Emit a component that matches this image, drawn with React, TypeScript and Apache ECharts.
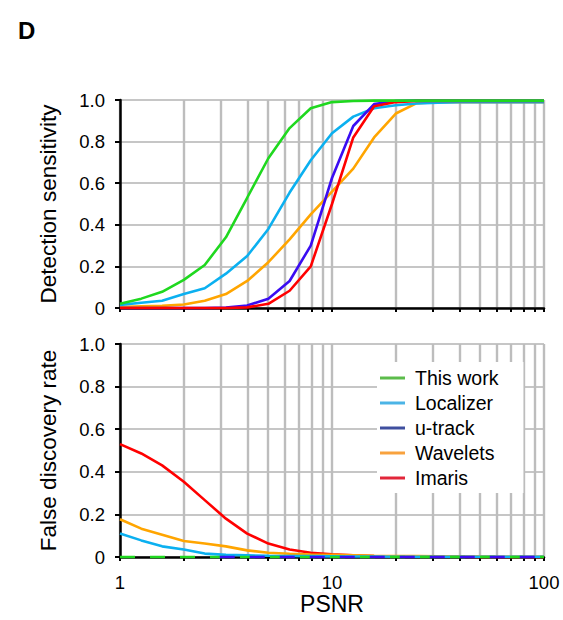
import React, { useEffect, useRef } from "react";
import * as echarts from "echarts";

const psnr = [1, 1.26, 1.58, 2, 2.51, 3.16, 3.98, 5.01, 6.31, 7.94, 10, 12.6, 15.8, 20, 25.1, 31.6, 39.8, 50.1, 63.1, 79.4, 100];

const names = ["This work", "Localizer", "u-track", "Wavelets", "Imaris"];
const lineColors = ["#1fd81f", "#0bb0f0", "#3a0cf2", "#ffa500", "#ff0000"];
const legendColors = ["#5cbc4b", "#4bb4e6", "#3f4f9f", "#f8a23e", "#e2263a"];

// Detection sensitivity
const sensThisWork = [0.02, 0.045, 0.078, 0.135, 0.207, 0.34, 0.53, 0.72, 0.865, 0.96, 0.99, 0.995, 0.997, 0.997, 0.997, 0.997, 0.997, 0.997, 0.997, 0.997, 0.997];
const sensLocalizer = [0.015, 0.025, 0.035, 0.067, 0.095, 0.165, 0.25, 0.38, 0.555, 0.71, 0.84, 0.92, 0.96, 0.975, 0.983, 0.987, 0.99, 0.99, 0.99, 0.99, 0.99];
const sensUtrack = [0, 0, 0, 0, 0, 0.002, 0.012, 0.045, 0.13, 0.3, 0.625, 0.875, 0.98, 0.995, 0.997, 0.997, 0.997, 0.997, 0.997, 0.997, 0.997];
const sensWavelets = [0.005, 0.008, 0.01, 0.017, 0.035, 0.067, 0.13, 0.22, 0.33, 0.45, 0.56, 0.67, 0.82, 0.935, 0.985, 0.99, 0.99, 0.99, 0.99, 0.99, 0.99];
const sensImaris = [0, 0, 0, 0, 0, 0, 0.003, 0.02, 0.083, 0.2, 0.5, 0.82, 0.97, 0.99, 0.995, 0.995, 0.995, 0.995, 0.995, 0.995, 0.995];

// False discovery rate
const fdrThisWork = [0, 0, 0, 0, 0, 0, 0, 0, 0, 0, 0, 0, 0, 0, 0, 0, 0, 0, 0, 0, 0];
const fdrLocalizer = [0.11, 0.078, 0.05, 0.035, 0.016, 0.01, 0.008, 0.006, 0.005, 0.004, 0.003, 0.002, 0.002, 0.001, 0.001, 0.001, 0.001, 0.001, 0.001, 0.001, 0.001];
const fdrUtrack = [null, null, null, null, 0, 0, 0, 0, 0, 0, 0, 0, 0, 0, 0, 0, 0, 0, 0, 0, 0];
const fdrWavelets = [0.177, 0.133, 0.105, 0.075, 0.063, 0.05, 0.031, 0.02, 0.015, 0.012, 0.01, 0.008, 0.006, 0.005, 0.004, 0.003, 0.002, 0.002, 0.001, 0.001, 0.001];
const fdrImaris = [0.53, 0.486, 0.43, 0.353, 0.267, 0.18, 0.11, 0.063, 0.035, 0.02, 0.013, 0.008, 0.005, 0.003, 0.002, 0.001, 0.001, 0, 0, 0, 0];

const xTickValues = [1, 2, 3, 4, 5, 6, 7, 8, 9, 10, 20, 30, 40, 50, 60, 70, 80, 90, 100];
const xLabelValues = [1, 10, 100];

const FONT = "Liberation Sans, Arial, Helvetica, sans-serif";

export default function App() {
  const ref = useRef<HTMLDivElement>(null);
  useEffect(() => {
    if (!ref.current) return;
    const chart = echarts.init(ref.current, null, { renderer: "svg" });

    const pair = (vals: (number | null)[]) => psnr.map((x, i) => [x, vals[i]]);

    const xAxisBase = (gi: number) => ({
      type: "log",
      logBase: 10,
      gridIndex: gi,
      min: 1,
      max: 100,
      axisLine: { show: true, onZero: false, lineStyle: { color: "#000", width: 2.5 } },
      axisTick: { show: true, length: 4, customValues: xTickValues, lineStyle: { color: "#000", width: 2 } },
      axisLabel: {
        show: gi === 1,
        customValues: xLabelValues,
        color: "#000",
        fontSize: 18.5,
        fontFamily: FONT,
        margin: 16,
      },
      splitLine: { show: true, lineStyle: { color: "#bdbdbd", width: 2.4 } },
      name: gi === 1 ? "PSNR" : "",
      nameLocation: "middle",
      nameGap: 35,
      nameTextStyle: { color: "#000", fontSize: 23, fontFamily: FONT },
    });

    const yAxisBase = (gi: number, name: string) => ({
      type: "value",
      gridIndex: gi,
      min: 0,
      max: 1,
      interval: 0.2,
      axisLine: { show: true, lineStyle: { color: "#000", width: 2.5 } },
      axisTick: { show: true, length: 5, lineStyle: { color: "#000", width: 2 } },
      axisLabel: {
        color: "#000",
        fontSize: 18.5,
        fontFamily: FONT,
        margin: 15,
        formatter: (v: number) => (v === 0 ? "0" : v.toFixed(1)),
      },
      splitLine: { show: true, lineStyle: { color: "#c6c6c6", width: 2 } },
      name,
      nameLocation: "middle",
      nameGap: 60,
      nameTextStyle: { color: "#000", fontSize: 22.5, fontFamily: FONT },
    });

    const mk = (name: string, idx: number, gi: number, vals: (number | null)[], extra: any = {}) => ({
      type: "line",
      name,
      xAxisIndex: gi,
      yAxisIndex: gi,
      data: pair(vals),
      showSymbol: false,
      symbol: "none",
      clip: false,
      lineStyle: { color: lineColors[idx], width: 2.6, ...(extra.lineStyle || {}) },
      itemStyle: { color: lineColors[idx] },
      z: extra.z ?? 3,
    });

    const option: any = {
      animation: false,
      backgroundColor: "#fff",
      title: {
        text: "D",
        left: 13,
        top: 13,
        textStyle: { fontSize: 24, fontWeight: "bold", color: "#000", fontFamily: FONT },
      },
      grid: [
        { left: 120, top: 100, width: 424, height: 208 },
        { left: 120, top: 344, width: 424, height: 213 },
      ],
      xAxis: [xAxisBase(0), xAxisBase(1)],
      yAxis: [yAxisBase(0, "Detection sensitivity"), yAxisBase(1, "False discovery rate")],
      legend: {
        left: 377,
        top: 362,
        orient: "vertical",
        backgroundColor: "#fff",
        padding: [6, 25, 5, 3],
        itemWidth: 25,
        itemHeight: 3,
        itemGap: 5,
        textStyle: { fontSize: 19.5, color: "#000", fontFamily: FONT, padding: [0, 0, 0, 5], lineHeight: 20 },
        data: names.map((n, i) => ({ name: n, icon: "rect", itemStyle: { color: legendColors[i] } })),
      },
      series: [
        mk("Wavelets", 3, 0, sensWavelets),
        mk("Localizer", 1, 0, sensLocalizer),
        mk("u-track", 2, 0, sensUtrack),
        mk("Imaris", 4, 0, sensImaris),
        mk("This work", 0, 0, sensThisWork),
        mk("Imaris", 4, 1, fdrImaris),
        mk("Wavelets", 3, 1, fdrWavelets),
        mk("Localizer", 1, 1, fdrLocalizer),
        mk("This work", 0, 1, fdrThisWork, { lineStyle: { type: [15, 15] }, z: 4 }),
        mk("u-track", 2, 1, fdrUtrack, { lineStyle: { type: [15, 15], dashOffset: 15 }, z: 4 }),
      ],
    };
    chart.setOption(option);
    return () => chart.dispose();
  }, []);
  return <div ref={ref} style={{ position: "absolute", left: 0, top: 0, width: 563, height: 620 }} />;
}
